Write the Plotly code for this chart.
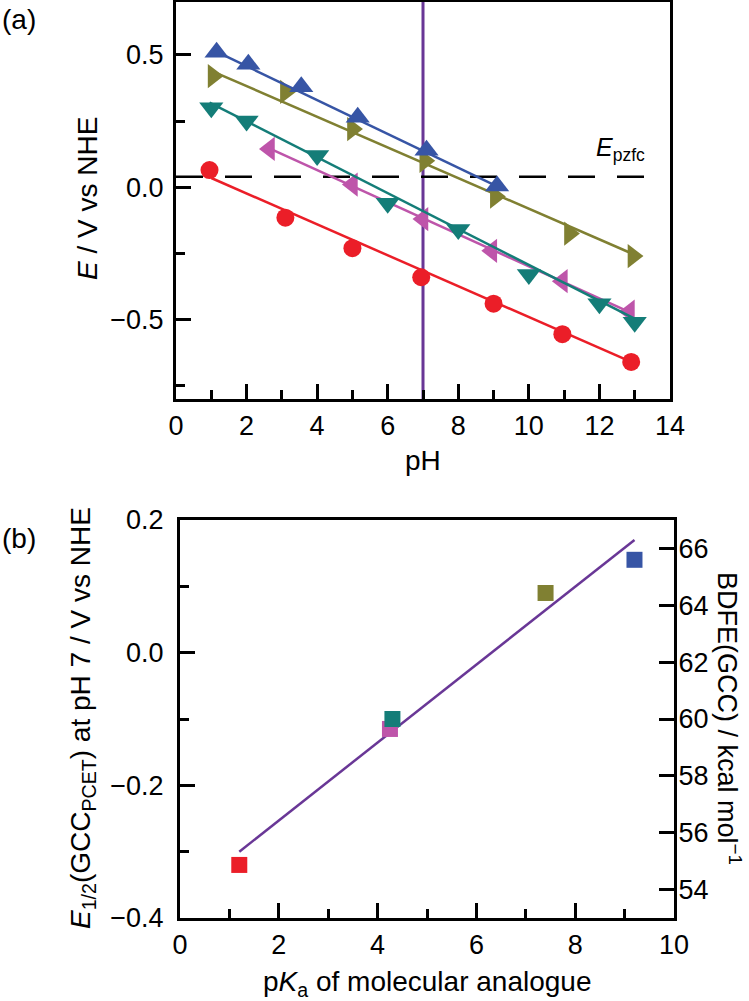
import plotly.graph_objects as go

# ---------------- Panel (a) data ----------------
ph_blue = [1.15, 2.05, 3.55, 5.15, 7.1, 9.1]
e_blue = [0.51, 0.465, 0.38, 0.265, 0.14, 0.005]
fit_blue_x = [1.1, 9.1]
fit_blue_y = [0.515, 0.003]

ph_olive = [1.05, 3.1, 5.0, 7.05, 9.05, 11.15, 12.95]
e_olive = [0.42, 0.36, 0.22, 0.10, -0.035, -0.175, -0.26]
fit_olive_x = [1.0, 13.0]
fit_olive_y = [0.44, -0.255]

ph_teal = [1.0, 2.0, 4.0, 6.0, 8.0, 10.0, 12.0, 13.0]
e_teal = [0.30, 0.25, 0.12, -0.06, -0.16, -0.33, -0.44, -0.51]
fit_teal_x = [0.95, 13.05]
fit_teal_y = [0.32, -0.50]

ph_mag = [2.65, 5.0, 7.0, 8.95, 10.95, 12.85]
e_mag = [0.145, 0.01, -0.12, -0.24, -0.355, -0.47]
fit_mag_x = [2.6, 12.9]
fit_mag_y = [0.15, -0.475]

ph_red = [0.95, 3.1, 5.0, 6.95, 9.0, 10.95, 12.9]
e_red = [0.065, -0.115, -0.23, -0.34, -0.44, -0.555, -0.66]
fit_red_x = [1.0, 12.9]
fit_red_y = [0.035, -0.66]

e_pzfc = 0.04
pzfc_x = [0, 13.5]
ph_ref = 7.0

# ---------------- Panel (b) data ----------------
pka = [1.2, 4.25, 4.3, 7.4, 9.2]
e_half = [-0.32, -0.115, -0.10, 0.09, 0.14]
fit_b_x = [1.2, 9.2]
fit_b_y = [-0.30, 0.17]

BLUE = '#3755a5'
OLIVE = '#808032'
TEAL = '#147d78'
MAG = '#be55aa'
RED = '#eb1e28'
PURPLE = '#693796'
sq_colors = [RED, MAG, TEAL, OLIVE, BLUE]

FONT = 'Arial, Liberation Sans, sans-serif'
W, H = 749, 1001

def px(x):
    return x / W

def py(y):
    return 1 - y / H

fig = go.Figure()

fig.add_trace(go.Scatter(x=[ph_ref, ph_ref], y=[-0.8, 0.7], mode='lines',
                         line=dict(color=PURPLE, width=3), xaxis='x', yaxis='y',
                         showlegend=False, hoverinfo='skip'))
fig.add_trace(go.Scatter(x=pzfc_x, y=[e_pzfc, e_pzfc], mode='lines',
                         line=dict(color='black', width=2.5, dash='27px,22px'),
                         xaxis='x', yaxis='y', showlegend=False, hoverinfo='skip'))

series = [
    (ph_red, e_red, fit_red_x, fit_red_y, RED, 'circle', 18),
    (ph_mag, e_mag, fit_mag_x, fit_mag_y, MAG, 'triangle-left', 21),
    (ph_teal, e_teal, fit_teal_x, fit_teal_y, TEAL, 'triangle-down', 21),
    (ph_olive, e_olive, fit_olive_x, fit_olive_y, OLIVE, 'triangle-right', 21),
    (ph_blue, e_blue, fit_blue_x, fit_blue_y, BLUE, 'triangle-up', 21),
]
for xs, ys, fx, fy, col, sym, sz in series:
    fig.add_trace(go.Scatter(x=fx, y=fy, mode='lines', line=dict(color=col, width=2.5),
                             xaxis='x', yaxis='y', showlegend=False, hoverinfo='skip'))
    fig.add_trace(go.Scatter(x=xs, y=ys, mode='markers',
                             marker=dict(symbol=sym, size=sz, color=col, line=dict(width=0)),
                             xaxis='x', yaxis='y', showlegend=False))

fig.add_trace(go.Scatter(x=fit_b_x, y=fit_b_y, mode='lines', line=dict(color=PURPLE, width=2.5),
                         xaxis='x2', yaxis='y2', showlegend=False, hoverinfo='skip'))
fig.add_trace(go.Scatter(x=pka, y=e_half, mode='markers',
                         marker=dict(symbol='square', size=16, color=sq_colors, line=dict(width=0)),
                         xaxis='x2', yaxis='y2', showlegend=False))
fig.add_trace(go.Scatter(x=[None], y=[None], mode='markers', xaxis='x2', yaxis='y3',
                         showlegend=False, hoverinfo='skip'))

TICK = 27
axis_common = dict(showgrid=False, zeroline=False, showline=True, linecolor='black', linewidth=3,
                   ticks='inside', ticklen=15, tickwidth=2.5, tickcolor='black', automargin=False,
                   tickfont=dict(family=FONT, size=TICK, color='black'))
minor_common = dict(ticks='inside', ticklen=9, tickwidth=2.5, tickcolor='black')

fig.update_layout(
    width=W, height=H,
    margin=dict(l=0, r=0, t=0, b=0, pad=0, autoexpand=False),
    paper_bgcolor='white', plot_bgcolor='white',
    showlegend=False,
    font=dict(family=FONT, color='black'),
    xaxis=dict(domain=[px(176), px(670)], anchor='y', range=[0, 14], tick0=0, dtick=2,
               mirror=True, ticklabelstandoff=1, minor=dict(dtick=1, **minor_common),
               **axis_common),
    yaxis=dict(domain=[py(399), py(2)], anchor='x', range=[-0.8, 0.7], tick0=0, dtick=0.5,
               tickformat='.1f', mirror=True, ticklabelstandoff=4,
               minor=dict(dtick=0.25, **minor_common), **axis_common),
    xaxis2=dict(domain=[px(180), px(674)], anchor='y2', range=[0, 10], tick0=0, dtick=2,
                mirror=True, ticklabelstandoff=1, minor=dict(dtick=1, **minor_common),
                **axis_common),
    yaxis2=dict(domain=[py(918), py(520)], anchor='x2', range=[-0.4, 0.2], tick0=0, dtick=0.2,
                tickformat='.1f', ticklabelstandoff=8,
                minor=dict(dtick=0.1, **minor_common), **axis_common),
    yaxis3=dict(overlaying='y2', anchor='x2', side='right', range=[53, 67], tick0=54, dtick=2,
                ticklabelstandoff=-4, **axis_common),
)

TITLE = 28
ann_font = dict(family=FONT, size=TITLE, color='black')
anns = [
    dict(text='(a)', x=px(0), y=py(20), xanchor='left', yanchor='middle'),
    dict(text='(b)', x=px(0), y=py(538), xanchor='left', yanchor='middle'),
    dict(text='pH', x=px(423), y=py(460), xanchor='center', yanchor='middle'),
    dict(text='p<i>K</i><sub>a</sub> of molecular analogue', x=px(427), y=py(983),
         xanchor='center', yanchor='middle'),
    dict(text='<i>E</i> / V vs NHE', x=px(87), y=py(199), xanchor='center', yanchor='middle',
         textangle=-90),
    dict(text='<i>E</i><sub>1/2</sub>(GCC<sub>PCET</sub>) at pH 7 / V vs NHE', x=px(82), y=py(718),
         xanchor='center', yanchor='middle', textangle=-90),
]
for a in anns:
    fig.add_annotation(xref='paper', yref='paper', showarrow=False, font=ann_font, **a)

fig.add_annotation(xref='paper', yref='paper', showarrow=False,
                   font=dict(family=FONT, size=27, color='black'),
                   text='BDFE(GCC) / kcal mol<sup>\u22121</sup>', x=px(729), y=py(718),
                   xanchor='center', yanchor='middle', textangle=90)

fig.add_annotation(xref='x', yref='y', x=12.6, y=0.145, showarrow=False, xanchor='center',
                   yanchor='middle', font=dict(family=FONT, size=25, color='black'),
                   text='<i>E</i><sub>pzfc</sub>')

fig.write_html('out.html', config={'displayModeBar': False},
               post_script="document.body.style.margin='0';document.body.style.overflow='hidden';")
